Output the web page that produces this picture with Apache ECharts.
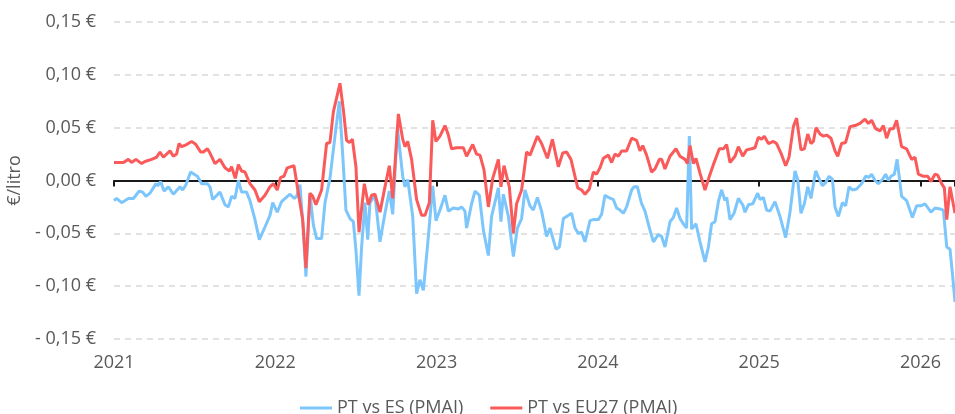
<!DOCTYPE html>
<html>
<head>
<meta charset="utf-8">
<script src="https://cdn.jsdelivr.net/npm/echarts@6/dist/echarts.min.js"></script>
<style>
  html, body { margin: 0; padding: 0; background: #ffffff; }
  #chart { width: 955px; height: 414px; }
</style>
</head>
<body>
<div id="chart"></div>
<script>
// diferencial semanal de preço (€/litro), anos decimais
const yearTicks = [2021, 2022, 2023, 2024, 2025, 2026];

const esYears = [
  2021.000, 2021.016, 2021.047, 2021.089, 2021.120, 2021.157, 2021.178, 2021.198, 2021.223, 2021.260,
  2021.271, 2021.289, 2021.310, 2021.337, 2021.368, 2021.409, 2021.426, 2021.446, 2021.475, 2021.517,
  2021.543, 2021.579, 2021.595, 2021.612, 2021.657, 2021.688, 2021.709, 2021.729, 2021.750, 2021.771,
  2021.791, 2021.822, 2021.843, 2021.874, 2021.901, 2021.936, 2021.967, 2021.984, 2022.012, 2022.039,
  2022.091, 2022.118, 2022.132, 2022.153, 2022.174, 2022.190, 2022.215, 2022.236, 2022.256, 2022.287,
  2022.308, 2022.339, 2022.370, 2022.397, 2022.418, 2022.438, 2022.463, 2022.484, 2022.500, 2022.519,
  2022.535, 2022.556, 2022.573, 2022.587, 2022.618, 2022.649, 2022.680, 2022.707, 2022.728, 2022.757,
  2022.790, 2022.804, 2022.821, 2022.852, 2022.876, 2022.897, 2022.918, 2022.949, 2022.976, 2022.996,
  2023.021, 2023.052, 2023.073, 2023.104, 2023.135, 2023.155, 2023.176, 2023.186, 2023.217, 2023.238,
  2023.265, 2023.290, 2023.321, 2023.341, 2023.383, 2023.399, 2023.414, 2023.445, 2023.476, 2023.501,
  2023.527, 2023.548, 2023.579, 2023.600, 2023.625, 2023.651, 2023.682, 2023.703, 2023.740, 2023.761,
  2023.786, 2023.806, 2023.837, 2023.858, 2023.879, 2023.899, 2023.920, 2023.951, 2023.972, 2024.003,
  2024.023, 2024.044, 2024.065, 2024.096, 2024.116, 2024.137, 2024.158, 2024.178, 2024.209, 2024.224,
  2024.245, 2024.271, 2024.292, 2024.323, 2024.344, 2024.375, 2024.395, 2024.416, 2024.447, 2024.468,
  2024.488, 2024.509, 2024.534, 2024.550, 2024.567, 2024.581, 2024.608, 2024.633, 2024.664, 2024.685,
  2024.705, 2024.726, 2024.747, 2024.767, 2024.788, 2024.799, 2024.819, 2024.844, 2024.871, 2024.898,
  2024.912, 2024.933, 2024.960, 2024.991, 2025.005, 2025.026, 2025.046, 2025.067, 2025.098, 2025.129,
  2025.164, 2025.191, 2025.222, 2025.239, 2025.259, 2025.280, 2025.301, 2025.321, 2025.350, 2025.371,
  2025.392, 2025.412, 2025.433, 2025.454, 2025.470, 2025.491, 2025.516, 2025.536, 2025.557, 2025.578,
  2025.604, 2025.635, 2025.660, 2025.681, 2025.697, 2025.718, 2025.739, 2025.764, 2025.784, 2025.801,
  2025.817, 2025.838, 2025.855, 2025.883, 2025.914, 2025.950, 2025.976, 2026.003, 2026.028, 2026.065,
  2026.090, 2026.121, 2026.142, 2026.163, 2026.183, 2026.198, 2026.214
];
const esValues = [
  -0.019, -0.017, -0.021, -0.017, -0.017, -0.010, -0.011, -0.015, -0.012, -0.003,
  -0.005, -0.001, -0.010, -0.006, -0.013, -0.006, -0.009, -0.004, 0.008, 0.004,
  -0.003, -0.003, -0.006, -0.018, -0.011, -0.023, -0.025, -0.015, -0.017, 0.000,
  -0.011, -0.011, -0.019, -0.037, -0.056, -0.044, -0.033, -0.021, -0.030, -0.020,
  -0.013, -0.017, -0.015, -0.004, -0.048, -0.091, -0.013, -0.042, -0.055, -0.055,
  -0.021, 0.002, 0.042, 0.075, 0.024, -0.028, -0.036, -0.039, -0.066, -0.109,
  -0.063, -0.021, -0.056, -0.021, -0.014, -0.058, -0.031, -0.010, -0.032, 0.050,
  0.004, -0.006, 0.001, -0.034, -0.107, -0.094, -0.104, -0.053, -0.005, -0.038,
  -0.028, -0.014, -0.029, -0.026, -0.027, -0.025, -0.029, -0.045, -0.022, -0.010,
  -0.014, -0.047, -0.071, -0.034, -0.007, -0.039, -0.013, -0.034, -0.072, -0.045,
  -0.036, -0.009, -0.024, -0.028, -0.016, -0.029, -0.053, -0.045, -0.065, -0.063,
  -0.036, -0.034, -0.031, -0.045, -0.050, -0.049, -0.058, -0.038, -0.037, -0.037,
  -0.032, -0.014, -0.016, -0.018, -0.026, -0.028, -0.031, -0.025, -0.009, -0.006,
  -0.006, -0.022, -0.029, -0.047, -0.058, -0.051, -0.053, -0.063, -0.039, -0.035,
  -0.026, -0.036, -0.042, -0.045, 0.042, -0.046, -0.041, -0.058, -0.077, -0.063,
  -0.041, -0.039, -0.020, -0.009, -0.019, -0.016, -0.037, -0.031, -0.017, -0.023,
  -0.030, -0.023, -0.022, -0.012, -0.018, -0.016, -0.028, -0.029, -0.020, -0.034,
  -0.054, -0.030, 0.009, 0.001, -0.031, -0.022, -0.006, -0.017, 0.009, 0.002,
  -0.005, -0.002, 0.004, 0.001, -0.025, -0.034, -0.021, -0.024, -0.006, -0.009,
  -0.008, -0.003, 0.004, 0.003, 0.006, 0.000, -0.003, 0.001, 0.006, 0.000,
  0.004, 0.006, 0.020, -0.015, -0.019, -0.035, -0.024, -0.024, -0.022, -0.030,
  -0.026, -0.027, -0.028, -0.063, -0.065, -0.088, -0.115
];

const euYears = [
  2021.000, 2021.058, 2021.089, 2021.109, 2021.136, 2021.171, 2021.192, 2021.233, 2021.264, 2021.285,
  2021.306, 2021.347, 2021.368, 2021.388, 2021.403, 2021.419, 2021.450, 2021.481, 2021.508, 2021.537,
  2021.554, 2021.579, 2021.595, 2021.626, 2021.657, 2021.688, 2021.715, 2021.729, 2021.752, 2021.771,
  2021.791, 2021.812, 2021.843, 2021.874, 2021.901, 2021.936, 2021.967, 2021.988, 2022.012, 2022.033,
  2022.054, 2022.074, 2022.116, 2022.143, 2022.170, 2022.190, 2022.215, 2022.232, 2022.252, 2022.287,
  2022.318, 2022.339, 2022.360, 2022.401, 2022.422, 2022.442, 2022.459, 2022.478, 2022.500, 2022.519,
  2022.552, 2022.577, 2022.597, 2022.618, 2022.649, 2022.680, 2022.707, 2022.728, 2022.763, 2022.790,
  2022.804, 2022.821, 2022.845, 2022.876, 2022.907, 2022.928, 2022.955, 2022.976, 2022.996, 2023.021,
  2023.052, 2023.073, 2023.093, 2023.124, 2023.145, 2023.166, 2023.186, 2023.224, 2023.248, 2023.269,
  2023.294, 2023.321, 2023.348, 2023.383, 2023.399, 2023.418, 2023.451, 2023.476, 2023.496, 2023.527,
  2023.558, 2023.579, 2023.625, 2023.651, 2023.687, 2023.718, 2023.755, 2023.782, 2023.806, 2023.833,
  2023.875, 2023.899, 2023.920, 2023.947, 2023.972, 2023.992, 2024.013, 2024.034, 2024.065, 2024.085,
  2024.106, 2024.127, 2024.147, 2024.178, 2024.209, 2024.240, 2024.261, 2024.278, 2024.302, 2024.333,
  2024.354, 2024.381, 2024.395, 2024.416, 2024.447, 2024.484, 2024.509, 2024.540, 2024.555, 2024.571,
  2024.592, 2024.608, 2024.633, 2024.664, 2024.691, 2024.716, 2024.753, 2024.778, 2024.798, 2024.819,
  2024.850, 2024.871, 2024.898, 2024.922, 2024.953, 2024.974, 2024.995, 2025.015, 2025.032, 2025.057,
  2025.088, 2025.108, 2025.135, 2025.164, 2025.185, 2025.212, 2025.232, 2025.259, 2025.280, 2025.301,
  2025.321, 2025.336, 2025.352, 2025.377, 2025.398, 2025.418, 2025.445, 2025.470, 2025.487, 2025.511,
  2025.536, 2025.563, 2025.594, 2025.625, 2025.656, 2025.677, 2025.697, 2025.722, 2025.749, 2025.770,
  2025.790, 2025.811, 2025.832, 2025.852, 2025.883, 2025.914, 2025.945, 2025.966, 2025.987, 2026.018,
  2026.045, 2026.065, 2026.090, 2026.107, 2026.131, 2026.148, 2026.163, 2026.183, 2026.214
];
const euValues = [
  0.017, 0.017, 0.020, 0.017, 0.020, 0.016, 0.018, 0.020, 0.022, 0.027,
  0.022, 0.028, 0.023, 0.025, 0.035, 0.032, 0.034, 0.037, 0.034, 0.027,
  0.027, 0.030, 0.026, 0.016, 0.020, 0.012, 0.009, 0.013, 0.002, 0.015,
  0.009, 0.008, -0.003, -0.009, -0.020, -0.014, -0.006, -0.003, -0.009, 0.003,
  0.004, 0.012, 0.014, -0.012, -0.037, -0.083, -0.012, -0.015, -0.023, -0.009,
  0.035, 0.036, 0.065, 0.092, 0.067, 0.038, 0.036, 0.039, 0.013, -0.049,
  -0.003, -0.023, -0.014, -0.013, -0.030, -0.006, 0.014, -0.017, 0.063, 0.039,
  0.032, 0.037, 0.020, -0.018, -0.033, -0.033, -0.021, 0.057, 0.037, 0.042,
  0.052, 0.043, 0.030, 0.031, 0.031, 0.031, 0.023, 0.034, 0.025, 0.024,
  0.010, -0.025, 0.002, 0.020, -0.006, 0.014, -0.006, -0.050, -0.022, -0.009,
  0.027, 0.024, 0.042, 0.035, 0.021, 0.039, 0.013, 0.026, 0.027, 0.020,
  -0.007, -0.009, -0.013, -0.008, 0.008, 0.006, 0.012, 0.021, 0.024, 0.017,
  0.025, 0.023, 0.028, 0.028, 0.040, 0.038, 0.028, 0.033, 0.024, 0.008,
  0.011, 0.020, 0.020, 0.011, 0.023, 0.030, 0.023, 0.020, 0.016, 0.033,
  0.016, 0.021, 0.007, -0.009, 0.004, 0.015, 0.030, 0.030, 0.034, 0.017,
  0.023, 0.032, 0.023, 0.029, 0.030, 0.031, 0.041, 0.039, 0.042, 0.035,
  0.037, 0.035, 0.026, 0.014, 0.022, 0.051, 0.059, 0.029, 0.030, 0.044,
  0.035, 0.037, 0.050, 0.044, 0.042, 0.043, 0.040, 0.028, 0.023, 0.035,
  0.036, 0.051, 0.052, 0.054, 0.058, 0.054, 0.057, 0.049, 0.047, 0.052,
  0.040, 0.049, 0.049, 0.057, 0.032, 0.030, 0.020, 0.022, 0.006, 0.004,
  0.004, -0.001, 0.006, 0.005, -0.003, -0.007, -0.037, -0.006, -0.031
];

const xMin = 2021;
const xMax = 2026.214;

const textColor = '#595959';
const fontFamily = 'Open Sans';
const fontSize = 18;

function euro(v) {
  let s = Math.abs(v).toFixed(2).replace('.', ',') + ' €';
  if (v < -0.0001) s = '- ' + s;
  return s;
}

let myChart = echarts.init(document.getElementById('chart'));

let option = {
  backgroundColor: '#ffffff',
  animation: false,
  textStyle: { fontFamily: fontFamily },
  legend: {
    data: ['PT vs ES (PMAI)', 'PT vs EU27 (PMAI)'],
    left: 295,
    top: 394,
    icon: 'rect',
    itemWidth: 32,
    itemHeight: 3,
    itemGap: 27,
    textStyle: { color: textColor, fontSize: fontSize, fontFamily: fontFamily },
  },
  grid: {
    left: 114,
    right: 0,
    top: 22,
    bottom: 75,
    outerBoundsMode: 'none',
  },
  xAxis: [
    {
      type: 'value',
      min: xMin,
      max: xMax,
      interval: 1,
      position: 'bottom',
      axisLine: { show: false, onZero: false },
      axisTick: { show: false },
      splitLine: { show: false },
      axisLabel: {
        color: textColor,
        fontSize: fontSize,
        margin: 15,
        showMaxLabel: false,
        formatter: (v) => (yearTicks.indexOf(Math.round(v)) >= 0 ? String(Math.round(v)) : ''),
      },
    },
    {
      type: 'value',
      min: xMin,
      max: xMax,
      interval: 1,
      position: 'top',
      axisLine: { show: true, onZero: true, lineStyle: { color: '#1a1a1a', width: 2 } },
      axisTick: { show: true, inside: true, length: 6, lineStyle: { color: '#1a1a1a', width: 2 } },
      axisLabel: { show: false },
      splitLine: { show: false },
    },
  ],
  yAxis: {
    type: 'value',
    min: -0.15,
    max: 0.15,
    interval: 0.05,
    name: '€/litro',
    nameLocation: 'middle',
    nameGap: 88,
    nameTextStyle: { color: textColor, fontSize: fontSize, fontFamily: fontFamily },
    axisLine: { show: false },
    axisTick: { show: false },
    axisLabel: {
      color: textColor,
      fontSize: fontSize,
      margin: 18,
      formatter: euro,
    },
    splitLine: {
      show: true,
      lineStyle: { color: '#d9d9d9', width: 1.5, type: [6, 5] },
    },
  },
  series: [
    {
      name: 'PT vs ES (PMAI)',
      type: 'line',
      xAxisIndex: 0,
      showSymbol: false,
      symbol: 'none',
      lineStyle: { color: '#7cc6fc', width: 3 },
      itemStyle: { color: '#7cc6fc' },
      data: esYears.map((y, i) => [y, esValues[i]]),
      z: 2,
    },
    {
      name: 'PT vs EU27 (PMAI)',
      type: 'line',
      xAxisIndex: 0,
      showSymbol: false,
      symbol: 'none',
      lineStyle: { color: '#fa5a5a', width: 3 },
      itemStyle: { color: '#fa5a5a' },
      data: euYears.map((y, i) => [y, euValues[i]]),
      z: 3,
    },
  ],
};
myChart.setOption(option);
</script>
</body>
</html>
